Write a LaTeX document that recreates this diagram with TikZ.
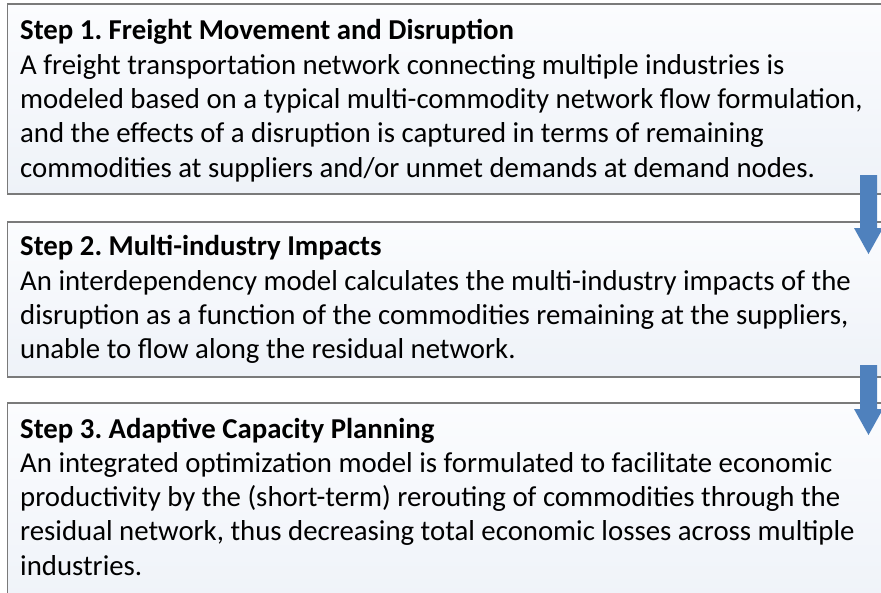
\documentclass[tikz,border=0pt]{standalone}
\usepackage{fontspec}
\setmainfont{Carlito}
\frenchspacing
\definecolor{arrowblue}{HTML}{4F81BD}
\definecolor{boxtop}{HTML}{FBFCFE}
\definecolor{boxbottom}{HTML}{EEF2F8}
\definecolor{frame}{HTML}{7A7A7A}
\begin{document}
\begin{tikzpicture}[x=1pt,y=-1pt,
  stepframe/.style={draw=frame, line width=1.8pt, top color=boxtop, bottom color=boxbottom},
  headtext/.style={anchor=base west, inner sep=0pt, font=\fontsize{28.8}{34.2}\selectfont\bfseries},
  % a multi-line node's base anchor sits on its last line
  bodytext/.style={anchor=base west, inner sep=0pt, align=left, font=\fontsize{28.8}{34.2}\selectfont},
  flowarrow/.style={fill=arrowblue}]
\useasboundingbox (0,0) rectangle (881,592);

% the three step boxes (running off the right and bottom edges)
\path[stepframe] (7.5,4) rectangle (900,194);
\path[stepframe] (7.5,222) rectangle (900,377);
\path[stepframe] (7.5,403) rectangle (900,620);

% step 1
\node[headtext] (h1) at (20,39) {Step 1. Freight Movement and Disruption};
\node[bodytext] (b1) at (20,177) {A freight transportation network connecting multiple industries is\\
modeled based on a typical multi-commodity network flow formulation,\\
and the effects of a disruption is captured in terms of remaining\\
commodities at suppliers and/or unmet demands at demand nodes.};

% step 2
\node[headtext] (h2) at (20,255) {Step 2. Multi-industry Impacts};
\node[bodytext] (b2) at (20,358.5) {An interdependency model calculates the multi-industry impacts of the\\
disruption as a function of the commodities remaining at the suppliers,\\
unable to flow along the residual network.};

% step 3
\node[headtext] (h3) at (20,438) {Step 3. Adaptive Capacity Planning};
\node[bodytext] (b3) at (20,575) {An integrated optimization model is formulated to facilitate economic\\
productivity by the (short-term) rerouting of commodities through the\\
residual network, thus decreasing total economic losses across multiple\\
industries.};

% block arrows linking the steps
\fill[flowarrow] (860,175) -- (877,175) -- (877,228) -- (883,228) -- (868.5,254)
  -- (854,228) -- (860,228) -- cycle;
\fill[flowarrow] (860,365) -- (877,365) -- (877,409) -- (883,409) -- (868.5,435)
  -- (854,409) -- (860,409) -- cycle;
\end{tikzpicture}
\end{document}
